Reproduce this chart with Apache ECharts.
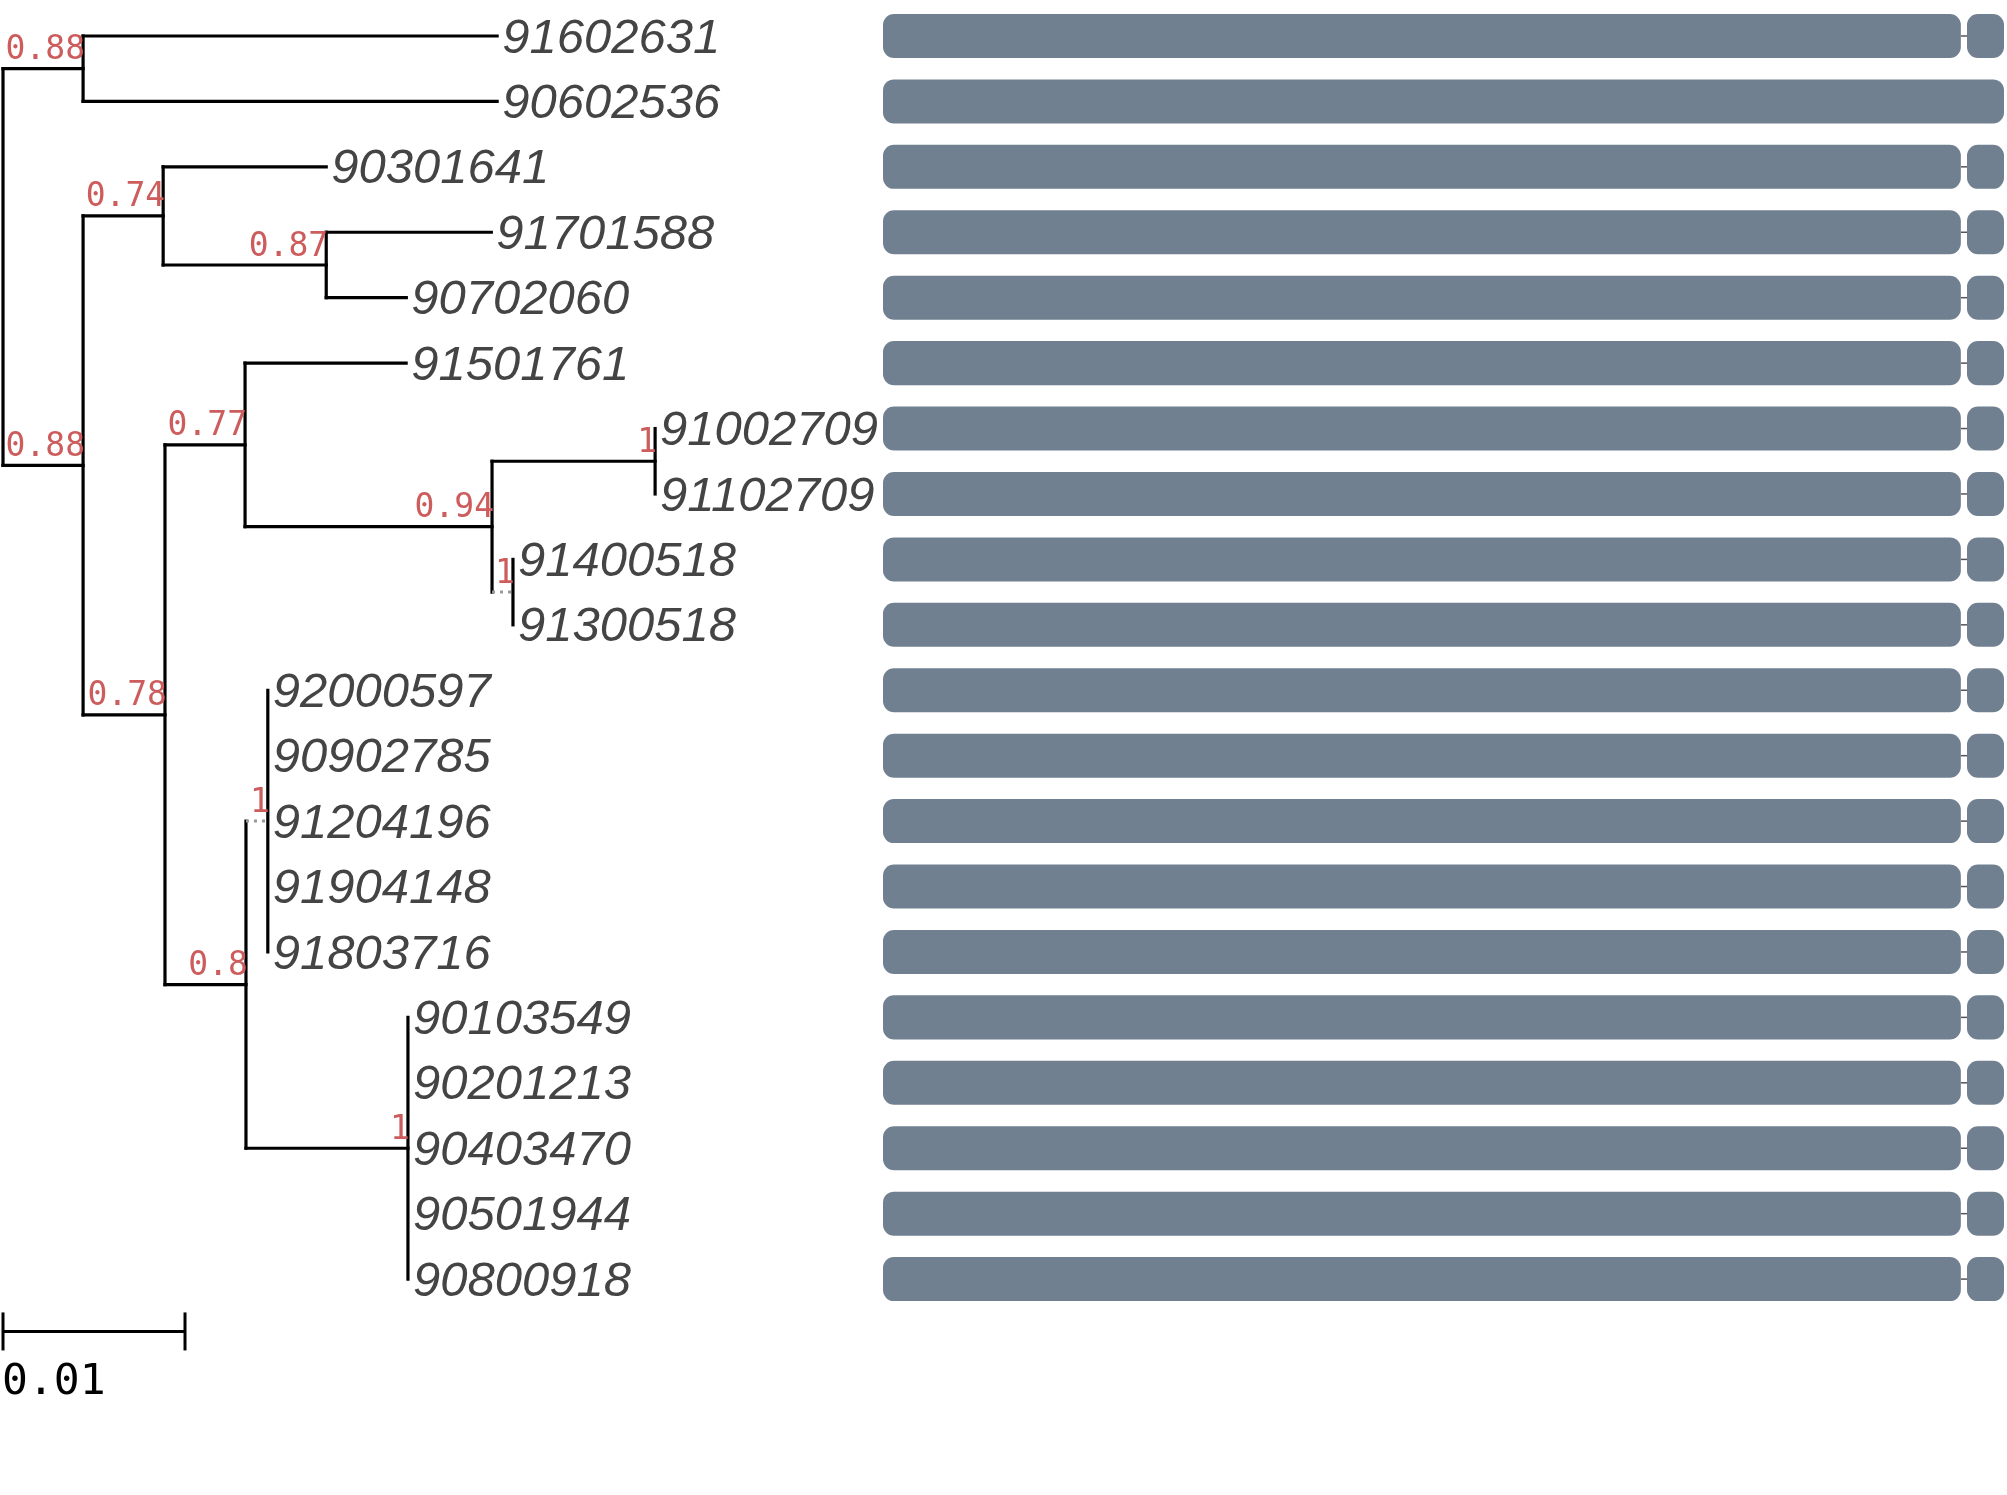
<!DOCTYPE html>
<html><head><meta charset="utf-8">
<script src="https://cdn.jsdelivr.net/npm/echarts@6/dist/echarts.min.js"></script>
<style>html,body{margin:0;padding:0;background:#fff}#c{width:2007px;height:1495px}</style>
</head><body><div id="c"></div>
<script>
// ---- DATA ----
// Phylogenetic tree (Newick: branch lengths, internal node labels = support values)
const newick = "((91602631:0.02275,90602536:0.02275)0.88:0.0044,((90301641:0.00896,(91701588:0.00907,90702060:0.0044)0.87:0.00896)0.74:0.0044,((91501761:0.00885,((91002709:0,91102709:0)1:0.00896,(91400518:0,91300518:0)1:0.00115)0.94:0.01357)0.77:0.0044,((92000597:0,90902785:0,91204196:0,91904148:0,91803716:0)1:0.0012,(90103549:0,90201213:0,90403470:0,90501944:0,90800918:0)1:0.0089)0.8:0.00445)0.78:0.0045)0.88:0.0044);";
// Gene structure per leaf (same order as tree leaves), in sequence coordinates
const geneIds     = ["91602631","90602536","90301641","91701588","90702060","91501761","91002709","91102709","91400518","91300518","92000597","90902785","91204196","91904148","91803716","90103549","90201213","90403470","90501944","90800918"];
const block1Start = [0,0,0,0,0,0,0,0,0,0,0,0,0,0,0,0,0,0,0,0];
const block1End   = [1923,2000,1923,1923,1923,1923,1923,1923,1923,1923,1923,1923,1923,1923,1923,1923,1923,1923,1923,1923];
const block2Start = [1934,null,1934,1934,1934,1934,1934,1934,1934,1934,1934,1934,1934,1934,1934,1934,1934,1934,1934,1934];
const block2End   = [2000,null,2000,2000,2000,2000,2000,2000,2000,2000,2000,2000,2000,2000,2000,2000,2000,2000,2000,2000];
const seqLength = 2000;
const scaleBarLength = 0.01;
const scaleBarLabel = "0.01";

// ---- PARSE + LAYOUT ----
function parseNewick(s){
  let i=0;
  function node(){
    const n={children:[],name:'',len:0};
    if(s[i]==='('){
      i++; n.children.push(node());
      while(s[i]===','){i++; n.children.push(node());}
      i++;
    }
    let name='';
    while(i<s.length && !',():;'.includes(s[i])) name+=s[i++];
    n.name=name;
    if(s[i]===':'){i++; let num=''; while(i<s.length && !',();'.includes(s[i])) num+=s[i++]; n.len=parseFloat(num);}
    return n;
  }
  return node();
}
const root = parseNewick(newick);
let leafIdx = 0;
const leaves=[], internals=[];
(function layout(n, depth){
  n.x = depth;
  if(!n.children.length){ n.y = leafIdx++; leaves.push(n); return; }
  n.children.forEach(c => layout(c, depth + c.len));
  n.y = (n.children[0].y + n.children[n.children.length-1].y)/2;
  internals.push(n);
})(root, 0);

const segments=[]; // [x1,y1,x2,y2,dotted]
internals.forEach(n=>{
  const f=n.children[0], l=n.children[n.children.length-1];
  segments.push([n.x, f.y, n.x, l.y, 0]);
  n.children.forEach(c=>{ if(c.len>0) segments.push([n.x, c.y, c.x, c.y, c.len<0.002?1:0]); });
});
const supportData = internals.filter(n=>n!==root && n.name).map(n=>[n.x, n.y, n.name]);
const leafData = leaves.map(n=>[n.x, n.y, n.name]);
const barData = geneIds.map((g,i)=>[block1Start[i], block1End[i], block2Start[i], block2End[i], i]);
const nRows = leaves.length;

// ---- CHART ----
const chart = echarts.init(document.getElementById('c'), null, {renderer:'canvas'});
const yRange = {min:-0.55, max:22.3};
const option = {
  animation:false,
  backgroundColor:'#ffffff',
  grid:[
    {left:0, right:0, top:0, bottom:0},
    {left:883, right:3, top:0, bottom:0}
  ],
  xAxis:[
    {gridIndex:0, type:'value', min:-0.000165, max:0.110110, show:false},
    {gridIndex:1, type:'value', min:0, max:seqLength, show:false}
  ],
  yAxis:[
    {gridIndex:0, type:'value', inverse:true, min:yRange.min, max:yRange.max, show:false},
    {gridIndex:1, type:'value', inverse:true, min:yRange.min, max:yRange.max, show:false}
  ],
  series:[
    { // bars
      type:'custom', xAxisIndex:1, yAxisIndex:1, clip:false, data:barData,
      renderItem:function(params, api){
        const row=api.value(4);
        const h=api.size([0,0.673])[1];
        const children=[];
        const p1=api.coord([api.value(0),row]), p2=api.coord([api.value(1),row]);
        const s2=barData[params.dataIndex][2];
        if(s2!=null){
          const q1=api.coord([s2,row]), q2=api.coord([api.value(3),row]);
          children.push({type:'line', shape:{x1:p2[0],y1:p2[1],x2:q1[0],y2:q1[1]}, style:{stroke:'#555',lineWidth:1.5}});
          children.push({type:'rect', shape:{x:q1[0],y:q1[1]-h/2,width:q2[0]-q1[0],height:h,r:11}, style:{fill:'#708090'}});
        }
        children.push({type:'rect', shape:{x:p1[0],y:p1[1]-h/2,width:p2[0]-p1[0],height:h,r:11}, style:{fill:'#708090'}});
        return {type:'group', children};
      }
    },
    { // tree branches
      type:'custom', xAxisIndex:0, yAxisIndex:0, clip:false, data:segments,
      renderItem:function(params, api){
        const a=api.coord([api.value(0),api.value(1)]), b=api.coord([api.value(2),api.value(3)]);
        const dotted=api.value(4)===1;
        return {type:'line', shape:{x1:a[0],y1:a[1],x2:b[0],y2:b[1]},
          style: dotted ? {stroke:'#9a9a9a', lineWidth:3, lineDash:[3,5], lineCap:'butt'} : {stroke:'#000', lineWidth:3.2, lineCap:'square'}};
      }
    },
    { // leaf labels
      type:'custom', xAxisIndex:0, yAxisIndex:0, clip:false, data:leafData,
      renderItem:function(params, api){
        const p=api.coord([api.value(0),api.value(1)]);
        return {type:'text', x:p[0]+5, y:p[1]+3, style:{text:leafData[params.dataIndex][2], x:0, y:0, align:'left', verticalAlign:'middle',
          font:'italic 49px "Liberation Sans", Arial, sans-serif', fill:'#444444'}};
      }
    },
    { // support labels
      type:'custom', xAxisIndex:0, yAxisIndex:0, clip:false, data:supportData,
      renderItem:function(params, api){
        const p=api.coord([api.value(0),api.value(1)]);
        return {type:'text', x:p[0]+2, y:p[1]-18, style:{text:supportData[params.dataIndex][2], x:0, y:0, align:'right', verticalAlign:'middle',
          font:'33px "DejaVu Sans Mono", monospace', fill:'#CD5C5C'}};
      }
    },
    { // scale bar
      type:'custom', xAxisIndex:0, yAxisIndex:0, clip:false, data:[[0, scaleBarLength, nRows-1+0.8]],
      renderItem:function(params, api){
        const a=api.coord([api.value(0),api.value(2)]), b=api.coord([api.value(1),api.value(2)]);
        const t=19;
        return {type:'group', children:[
          {type:'line', shape:{x1:a[0],y1:a[1],x2:b[0],y2:b[1]}, style:{stroke:'#000',lineWidth:3}},
          {type:'line', shape:{x1:a[0],y1:a[1]-t,x2:a[0],y2:a[1]+t}, style:{stroke:'#000',lineWidth:3}},
          {type:'line', shape:{x1:b[0],y1:b[1]-t,x2:b[0],y2:b[1]+t}, style:{stroke:'#000',lineWidth:3}},
          {type:'text', x:a[0]-1, y:a[1]+51, style:{text:scaleBarLabel, x:0, y:0, align:'left', verticalAlign:'middle',
            font:'43px "DejaVu Sans Mono", monospace', fill:'#000'}}
        ]};
      }
    }
  ]
};
chart.setOption(option);
</script></body></html>
